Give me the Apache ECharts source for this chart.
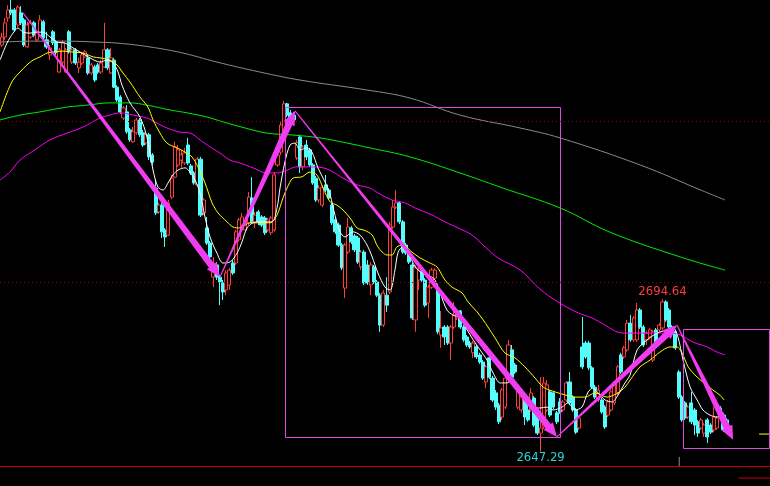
<!DOCTYPE html>
<html><head><meta charset="utf-8">
<script src="https://cdn.jsdelivr.net/npm/echarts@6/dist/echarts.min.js"></script>
<style>html,body{margin:0;padding:0;background:#000;}#c{width:770px;height:486px;}</style>
</head><body><div id="c"></div>
<script>
const opens=[2773.7,2776.2,2782.1,2784.6,2784.6,2779.9,2783.7,2781.5,2773.1,2776.2,
2780.6,2775.3,2776.8,2780.9,2775.3,2770.6,2777.8,2774.7,2765.3,2768.4,
2765.3,2777.8,2768.4,2772.2,2766.6,2768.1,2770.0,2769.7,2765.0,2766.9,
2767.5,2765.3,2766.9,2772.2,2765.0,2769.0,2760.6,2757.5,2751.0,2752.9,
2747.3,2743.6,2746.4,2750.4,2746.4,2743.3,2745.8,2739.5,2729.2,2721.8,
2723.9,2716.2,2714.6,2726.4,2732.6,2736.4,2737.9,2737.0,2742.6,2736.1,
2733.9,2730.2,2738.2,2721.5,2716.8,2712.1,2701.5,2705.3,2701.5,2699.7,
2697.5,2699.1,2705.9,2705.9,2713.1,2717.7,2716.2,2718.4,2726.1,2718.7,
2721.8,2720.2,2719.9,2716.2,2715.3,2716.2,2736.4,2740.4,2745.8,2755.4,
2752.6,2751.9,2738.6,2745.1,2735.8,2742.6,2741.1,2736.4,2732.3,2725.5,
2723.9,2730.2,2728.6,2723.9,2719.3,2717.7,2711.5,2698.1,2709.3,2716.8,
2714.3,2713.7,2704.7,2709.3,2705.3,2699.1,2704.7,2700.0,2695.9,2686.6,
2695.9,2696.9,2717.1,2723.3,2724.6,2718.7,2711.5,2709.3,2705.3,2688.2,
2700.6,2703.1,2700.6,2693.5,2698.4,2701.2,2697.5,2683.5,2686.0,2686.0,
2681.0,2686.0,2688.8,2691.0,2686.0,2682.9,2681.0,2678.0,2679.8,2677.3,
2675.1,2668.9,2676.4,2670.1,2665.5,2661.7,2658.0,2661.1,2669.5,2678.9,
2674.2,2661.1,2660.2,2664.2,2660.2,2660.2,2663.9,2659.3,2653.0,2654.9,
2660.2,2665.8,2665.5,2659.3,2662.7,2660.2,2663.3,2668.9,2664.2,2660.2,
2654.6,2679.8,2681.0,2681.0,2673.3,2667.3,2663.3,2663.3,2661.1,2658.6,
2660.2,2662.4,2665.5,2677.3,2676.7,2678.9,2687.2,2682.0,2682.0,2691.3,
2686.0,2682.0,2682.9,2675.7,2685.1,2685.1,2685.7,2693.8,2691.3,2686.0,
2684.5,2672.0,2664.2,2662.4,2658.0,2662.4,2660.2,2656.5,2654.6,2653.0,
2657.1,2655.5,2654.0,2654.6,2660.8,2658.6,2657.1];
const closes=[2776.2,2780.6,2784.6,2783.7,2778.4,2785.5,2780.6,2773.7,2779.9,2780.6,
2776.8,2777.5,2781.5,2775.9,2773.1,2772.8,2774.4,2771.3,2772.2,2774.4,
2772.2,2771.6,2772.2,2768.1,2768.4,2770.6,2771.6,2765.0,2767.5,2762.8,
2765.3,2768.1,2772.2,2766.6,2769.7,2760.6,2756.6,2752.9,2754.1,2746.7,
2744.2,2746.7,2750.4,2745.8,2742.6,2745.8,2738.9,2737.3,2721.5,2723.9,
2715.6,2714.0,2724.6,2732.3,2742.0,2741.1,2739.5,2740.1,2737.0,2733.9,
2730.8,2738.2,2720.8,2725.5,2712.1,2707.8,2705.9,2701.5,2700.0,2696.9,
2702.8,2703.7,2702.8,2715.6,2719.3,2720.2,2718.7,2726.4,2718.7,2720.8,
2718.7,2717.7,2715.3,2719.3,2719.9,2733.3,2739.5,2748.8,2755.4,2751.9,
2750.4,2750.4,2743.3,2735.8,2742.0,2738.9,2736.4,2730.8,2725.5,2729.2,
2729.5,2728.6,2726.1,2718.4,2715.6,2711.5,2704.4,2711.5,2717.1,2712.5,
2710.0,2706.2,2709.3,2699.7,2699.7,2705.3,2700.0,2695.9,2686.6,2696.6,
2692.8,2717.7,2723.3,2724.6,2718.7,2709.3,2709.0,2706.2,2688.8,2704.4,
2703.7,2700.6,2692.8,2698.4,2703.7,2703.7,2684.5,2685.7,2682.9,2681.0,
2686.0,2689.7,2691.0,2686.0,2682.0,2680.4,2679.8,2681.0,2676.7,2675.1,
2670.1,2673.6,2670.4,2663.3,2661.1,2656.5,2666.4,2670.1,2680.4,2670.4,
2672.0,2667.3,2664.2,2658.0,2657.1,2665.5,2655.5,2653.0,2654.6,2668.6,
2668.0,2658.6,2661.1,2656.5,2659.6,2662.7,2668.6,2662.4,2660.2,2653.3,
2657.7,2673.6,2676.7,2673.3,2667.3,2664.2,2666.4,2659.6,2654.9,2662.7,
2665.8,2668.6,2673.6,2672.0,2679.5,2687.2,2682.0,2688.8,2691.3,2686.0,
2680.4,2684.1,2685.1,2684.5,2681.4,2686.6,2693.8,2688.2,2686.0,2684.1,
2679.5,2664.2,2657.1,2657.7,2661.1,2656.5,2655.5,2653.0,2657.1,2655.5,
2651.8,2653.3,2658.0,2657.7,2658.0,2654.0,2653.3];
const lows=[2773.1,2775.3,2780.9,2783.0,2777.8,2779.3,2779.9,2773.1,2772.8,2775.6,
2776.2,2774.7,2776.2,2775.3,2772.5,2769.0,2773.7,2770.6,2765.0,2767.8,
2765.0,2771.0,2767.8,2767.5,2765.0,2767.5,2769.7,2764.4,2764.4,2762.2,
2764.7,2764.7,2766.6,2765.9,2764.7,2760.3,2756.0,2752.3,2750.4,2746.1,
2743.6,2743.3,2745.8,2745.1,2742.0,2742.6,2737.9,2736.4,2720.8,2721.2,
2713.7,2710.9,2714.3,2725.8,2732.3,2735.8,2735.5,2736.4,2736.4,2733.3,
2730.2,2729.9,2720.2,2720.8,2711.5,2706.8,2698.4,2700.6,2692.8,2694.4,
2695.9,2697.5,2702.2,2705.3,2712.5,2717.1,2715.6,2717.7,2718.0,2716.8,
2717.7,2717.1,2714.6,2715.6,2714.6,2715.6,2735.8,2739.5,2745.1,2751.3,
2749.8,2748.8,2737.9,2733.9,2734.8,2737.9,2735.8,2730.2,2724.9,2724.6,
2723.3,2728.0,2725.5,2717.7,2714.9,2710.9,2703.7,2695.0,2708.7,2711.8,
2709.3,2705.6,2703.7,2699.1,2699.1,2695.9,2699.4,2695.3,2684.5,2686.0,
2690.7,2696.3,2716.5,2722.7,2718.0,2708.7,2708.4,2705.6,2688.2,2684.5,
2697.5,2700.0,2692.2,2688.8,2697.8,2700.6,2683.8,2679.5,2680.4,2680.4,
2675.7,2685.4,2688.2,2685.4,2681.4,2679.8,2679.2,2676.4,2676.1,2674.5,
2669.5,2667.0,2669.8,2662.7,2660.2,2655.8,2657.1,2660.5,2668.9,2669.8,
2671.4,2660.5,2659.3,2655.5,2656.5,2659.6,2654.9,2652.4,2647.29,2654.3,
2659.6,2658.0,2660.5,2655.8,2659.0,2659.6,2662.7,2661.7,2659.6,2652.7,
2654.0,2672.9,2676.1,2672.6,2666.7,2663.6,2662.7,2659.0,2654.3,2658.0,
2659.6,2661.7,2664.8,2671.4,2676.1,2678.3,2681.4,2681.4,2681.4,2685.4,
2679.8,2680.4,2682.3,2675.1,2680.7,2684.5,2685.1,2687.6,2685.4,2683.5,
2678.9,2663.6,2656.5,2657.1,2657.4,2655.8,2652.4,2651.8,2654.0,2651.8,
2649.9,2652.7,2653.3,2654.0,2657.4,2653.3,2652.7];
const highs=[2777.5,2782.1,2786.1,2787.7,2785.2,2786.1,2785.8,2782.1,2780.9,2781.5,
2781.2,2778.1,2783.0,2781.5,2777.8,2773.7,2778.4,2775.3,2772.8,2775.3,
2772.8,2778.4,2772.8,2772.8,2769.7,2771.6,2772.2,2770.6,2768.1,2767.5,
2768.1,2769.0,2780.6,2772.8,2772.8,2769.7,2761.2,2758.1,2754.7,2755.0,
2747.9,2748.2,2751.0,2751.0,2747.3,2746.4,2746.4,2740.1,2732.0,2724.6,
2724.6,2716.8,2725.5,2733.3,2743.6,2742.6,2741.1,2741.7,2744.8,2736.7,
2734.5,2738.9,2738.9,2726.1,2720.2,2712.8,2707.8,2706.2,2702.2,2700.6,
2703.7,2704.4,2706.8,2716.2,2719.9,2721.5,2719.3,2728.0,2732.6,2721.8,
2722.4,2720.8,2720.5,2719.9,2720.5,2734.2,2741.1,2749.8,2756.3,2755.7,
2753.5,2752.9,2744.2,2745.8,2742.6,2744.2,2741.7,2737.0,2733.0,2730.2,
2730.2,2733.3,2729.2,2724.6,2719.9,2718.4,2712.1,2712.1,2719.9,2717.4,
2714.9,2714.3,2710.0,2710.0,2706.8,2706.2,2705.3,2700.6,2696.6,2697.5,
2701.5,2718.7,2725.5,2728.6,2725.2,2719.3,2712.1,2710.0,2705.9,2705.3,
2704.4,2703.7,2701.2,2699.1,2704.4,2704.4,2698.1,2691.0,2686.6,2686.6,
2686.6,2693.8,2691.3,2691.3,2686.6,2683.5,2681.7,2681.7,2680.4,2678.0,
2675.7,2674.2,2678.9,2670.8,2666.4,2662.4,2667.0,2671.1,2682.0,2680.4,
2674.8,2668.0,2664.8,2664.8,2661.7,2667.0,2664.5,2659.9,2670.4,2670.4,
2669.5,2666.4,2666.1,2659.9,2663.9,2663.3,2669.2,2672.0,2664.8,2660.8,
2658.3,2689.1,2681.7,2681.7,2673.9,2668.0,2668.0,2663.9,2661.7,2663.3,
2666.4,2669.2,2674.2,2678.0,2680.1,2688.2,2689.7,2689.4,2693.5,2691.9,
2686.6,2684.8,2685.7,2685.1,2685.7,2687.2,2694.64,2694.3,2691.9,2686.6,
2685.1,2672.6,2664.8,2663.0,2661.7,2665.8,2660.8,2657.1,2657.7,2656.1,
2657.7,2656.1,2661.1,2658.3,2661.4,2659.3,2657.7];

// moving average lines: [bar index, price]
const ma5Pts=[[-0.5,2769.0],[1.68,2774.3],[3.55,2777.4],[5.1,2779.0],[6.67,2777.7],[8.85,2777.4],[11.03,2777.7],[12.9,2777.7],[15.09,2776.2],[17.27,2774.6],[19.76,2774.3],[22.25,2772.8],[24.44,2771.5],[27.55,2769.7],[30.67,2768.4],[32.85,2769.0],[34.7,2768.1],[36.3,2765.3],[37.5,2761.3],[40.0,2755.7],[43.14,2751.3],[45.3,2745.1],[47.2,2734.8],[48.75,2729.5],[50.3,2728.6],[51.87,2730.8],[53.4,2733.3],[54.98,2734.8],[57.2,2735.5],[58.7,2734.2],[60.28,2731.7],[61.84,2727.7],[63.4,2720.2],[64.96,2714.0],[67.1,2709.0],[69.0,2705.9],[71.2,2706.2],[73.4,2709.0],[74.9,2712.4],[76.5,2716.8],[78.36,2718.4],[81.5,2718.7],[84.3,2718.7],[85.84,2723.0],[86.78,2729.2],[88.3,2737.3],[89.9,2742.6],[91.45,2743.2],[93.0,2741.1],[95.2,2741.7],[96.75,2740.4],[98.6,2735.5],[100.8,2731.1],[102.4,2727.1],[103.9,2720.8],[105.5,2715.6],[107.0,2714.0],[109.5,2715.6],[111.7,2714.6],[113.9,2711.5],[115.5,2707.8],[117.3,2702.8],[119.5,2698.4],[121.1,2697.5],[122.6,2703.7],[123.6,2709.3],[125.1,2710.9],[126.7,2709.3],[128.9,2704.7],[131.0,2702.8],[132.9,2702.2],[135.1,2700.6],[136.7,2696.6],[138.8,2691.3],[140.7,2689.7],[142.9,2688.8],[145.1,2685.1],[147.0,2682.0],[149.1,2678.9],[151.3,2675.7],[153.2,2671.7],[155.4,2668.6],[157.5,2668.6],[159.4,2669.5],[161.6,2665.5],[163.8,2664.2],[165.6,2661.1],[167.8,2660.8],[170.0,2661.1],[171.9,2660.2],[174.7,2661.1],[176.5,2662.4],[178.7,2660.2],[180.9,2661.1],[182.8,2665.8],[184.3,2667.0],[185.9,2665.5],[188.1,2663.3],[190.3,2662.7],[192.1,2664.8],[194.3,2668.6],[195.9,2671.1],[198.1,2678.9],[201.2,2682.0],[204.3,2684.1],[207.4,2685.1],[209.3,2685.7],[210.8,2682.9],[212.4,2675.7],[214.6,2667.3],[216.8,2663.3],[218.6,2660.2],[220.8,2658.6],[223.0,2658.0],[224.9,2659.3]];
const ma10Pts=[[-0.5,2752.9],[1.68,2758.8],[3.55,2762.8],[5.73,2765.3],[7.9,2767.5],[9.79,2769.0],[11.97,2770.0],[14.15,2771.2],[16.0,2771.5],[19.1,2771.8],[22.25,2771.5],[25.4,2771.2],[28.5,2770.0],[30.67,2769.7],[33.8,2769.0],[35.97,2767.5],[37.84,2765.0],[40.0,2762.2],[43.14,2757.5],[45.6,2754.4],[47.2,2750.4],[49.37,2746.3],[51.55,2743.2],[54.67,2741.7],[57.2,2740.4],[59.35,2738.9],[61.2,2735.8],[63.4,2730.8],[65.6,2724.6],[67.45,2721.5],[70.26,2718.7],[72.1,2717.1],[74.3,2716.8],[77.4,2718.4],[80.5,2718.4],[83.66,2718.4],[85.84,2720.8],[87.7,2726.1],[88.96,2729.2],[90.8,2732.3],[93.6,2732.7],[96.1,2734.2],[98.3,2733.3],[100.2,2729.2],[102.4,2724.9],[104.5,2723.9],[106.4,2722.4],[108.6,2719.9],[110.8,2716.8],[113.3,2716.0],[115.5,2714.6],[117.3,2710.9],[120.1,2708.4],[121.7,2708.4],[123.2,2710.9],[125.1,2711.5],[127.9,2709.3],[130.4,2707.5],[133.5,2705.9],[135.7,2704.7],[138.2,2700.6],[140.4,2698.4],[143.5,2696.6],[145.4,2693.8],[148.2,2690.7],[150.1,2688.2],[151.6,2686.0],[153.8,2682.6],[156.9,2677.9],[160.0,2676.4],[163.1,2673.6],[166.3,2670.1],[168.8,2667.3],[171.6,2666.1],[175.6,2664.9],[178.7,2664.2],[181.8,2664.2],[185.0,2665.5],[188.7,2664.2],[192.1,2665.5],[194.3,2667.3],[195.9,2669.5],[199.0,2673.6],[202.1,2675.7],[205.2,2678.2],[208.3,2679.8],[210.5,2679.8],[212.1,2677.9],[214.0,2673.6],[216.8,2670.4],[219.9,2667.9],[221.7,2666.4],[223.9,2664.8],[225.2,2663.3]];
const ma30Pts=[[-0.5,2731.7],[2.6,2734.2],[5.73,2737.9],[10.4,2741.1],[15.09,2744.2],[20.4,2746.3],[25.4,2748.2],[30.67,2751.0],[33.8,2751.9],[36.9,2752.6],[40.96,2751.9],[45.3,2751.0],[48.4,2749.4],[51.55,2747.9],[55.6,2746.6],[58.7,2746.3],[61.84,2744.2],[64.96,2742.0],[68.07,2740.1],[71.2,2737.9],[74.3,2737.0],[78.36,2735.5],[82.7,2733.9],[85.84,2733.9],[88.96,2734.8],[92.07,2735.8],[96.1,2735.8],[100.2,2735.5],[103.3,2734.2],[106.4,2732.3],[110.8,2730.2],[114.8,2729.2],[117.3,2727.7],[121.7,2725.5],[125.7,2724.6],[128.9,2723.0],[134.2,2720.8],[138.2,2718.7],[142.3,2716.8],[146.6,2714.6],[150.7,2710.9],[154.7,2707.5],[161.6,2703.7],[167.8,2697.8],[173.4,2693.8],[179.7,2690.4],[184.0,2688.8],[188.1,2686.6],[192.1,2684.4],[194.9,2684.1],[201.2,2684.1],[207.4,2684.1],[211.5,2683.5],[215.5,2681.3],[219.9,2679.8],[223.0,2678.2],[225.5,2677.3]];
const ma60Pts=[[-0.5,2750.4],[5.73,2751.9],[11.97,2752.9],[20.4,2754.4],[26.6,2755.0],[33.8,2755.7],[40.0,2755.7],[45.3,2755.0],[52.5,2753.5],[57.8,2752.6],[64.0,2751.3],[69.0,2749.8],[75.87,2747.9],[82.7,2746.3],[90.8,2745.7],[99.24,2744.8],[107.7,2743.2],[114.8,2741.7],[127.3,2738.9],[142.9,2733.9],[155.4,2729.5],[174.1,2723.0],[189.6,2715.5],[211.5,2707.8],[225.5,2703.7]];
const ma120Pts=[[-0.5,2774.6],[9.79,2774.9],[20.4,2774.9],[29.7,2774.6],[35.97,2774.3],[46.26,2773.1],[56.5,2771.2],[67.1,2768.4],[80.5,2765.3],[93.0,2762.8],[113.9,2759.7],[127.3,2757.2],[142.9,2751.9],[161.6,2747.9],[174.1,2744.8],[199.0,2736.4],[217.9,2728.6],[225.5,2725.5]];

// zigzag arrows: [fromIndex, fromPrice, toIndex, toPrice]
const zigzag=[[6.67,2783.7,68.07,2701.55],[68.07,2701.55,91.45,2753.2],[91.45,2753.2,173.1,2651.8],[173.1,2651.8,210.5,2686.6],[210.5,2686.6,228.0,2650.9]];
// boxes: [leftIndex, topPrice, rightIndex, bottomPrice]
const boxes=[[88.3,2754.4,174.1,2651.8],[212.4,2685.4,239.2,2648.4]];
const gridLevels=[2750,2700];
const peakLabel={index:206,price:2694.64};
const troughLabel={index:168,price:2647.29};
const slotCount=240;
const categories=Array.from({length:slotCount},(_,i)=>String(i));

const chart=echarts.init(document.getElementById('c'),null,{renderer:'canvas'});
function ma(pts,color,smooth){return {type:'line',xAxisIndex:1,yAxisIndex:0,data:pts,showSymbol:false,smooth:smooth,lineStyle:{color:color,width:1},silent:true,z:3,animation:false};}
const boxColors=['#e048e0','#e048e0'];
const labelFont='Liberation Sans Narrow, DejaVu Sans Condensed, Arial, sans-serif';
chart.setOption({
  backgroundColor:'#000',
  animation:false,
  grid:{left:0,right:0,top:0,bottom:20},
  xAxis:[
    {type:'category',data:categories,boundaryGap:true,axisLine:{show:true,lineStyle:{color:'#c80000',width:1}},axisTick:{show:false},axisLabel:{show:false},splitLine:{show:false}},
    {type:'value',min:-0.5,max:slotCount-0.5,show:false}
  ],
  yAxis:{type:'value',min:2642.77,max:2787.7,show:false,splitLine:{show:false}},
  series:[
    {type:'candlestick',xAxisIndex:0,yAxisIndex:0,barWidth:3.6,z:2,
     data:opens.map((o,i)=>[o,closes[i],lows[i],highs[i]]),
     itemStyle:{color:'#000',color0:'#54fcfc',borderColor:'#ff3c3c',borderColor0:'#54fcfc',borderWidth:1},
     markLine:{silent:true,symbol:['none','none'],label:{show:false},lineStyle:{color:'#8c0000',type:[1,3],width:1},data:gridLevels.map(v=>({yAxis:v}))},
     markPoint:{symbol:'circle',symbolSize:0,data:[
       {coord:[String(peakLabel.index),peakLabel.price],value:peakLabel.price,label:{show:true,position:'top',distance:1,color:'#ff3c3c',fontSize:13,fontFamily:labelFont,formatter:String(peakLabel.price)}},
       {coord:[String(troughLabel.index),troughLabel.price],value:troughLabel.price,label:{show:true,position:'bottom',distance:0,color:'#2ad4d4',fontSize:13,fontFamily:labelFont,formatter:String(troughLabel.price)}}
     ]}
    },
    ma(ma120Pts,'#8a8a8a',0.4),
    ma(ma60Pts,'#00ee00',0.4),
    ma(ma30Pts,'#ff00ff',0.4),
    ma(ma10Pts,'#ffff00',0.3),
    ma(ma5Pts,'#ffffff',0.3),
    {type:'custom',xAxisIndex:1,yAxisIndex:0,z:4,silent:true,data:boxes,
     renderItem:function(params,api){
       const a=api.coord([api.value(0),api.value(1)]);const b=api.coord([api.value(2),api.value(3)]);
       const x=Math.round(a[0])+0.5,y=Math.round(a[1])+0.5;
       return {type:'rect',shape:{x:x,y:y,width:Math.round(b[0]-a[0]),height:Math.round(b[1]-a[1])},style:{fill:'none',stroke:boxColors[params.dataIndex],lineWidth:1}};
     }},
    {type:'custom',xAxisIndex:1,yAxisIndex:0,z:5,silent:true,data:zigzag,
     renderItem:function(params,api){
       const a=api.coord([api.value(0),api.value(1)]);const b=api.coord([api.value(2),api.value(3)]);
       const dx=b[0]-a[0],dy=b[1]-a[1];const L=Math.hypot(dx,dy);const ux=dx/L,uy=dy/L;const nx=-uy,ny=ux;
       const hl=14,hw=6,w0=0.5,w1=3.4;
       const bx=b[0]-ux*hl,by=b[1]-uy*hl;
       const pts=[[a[0]+nx*w0,a[1]+ny*w0],[bx+nx*w1,by+ny*w1],[bx+nx*hw,by+ny*hw],[b[0],b[1]],[bx-nx*hw,by-ny*hw],[bx-nx*w1,by-ny*w1],[a[0]-nx*w0,a[1]-ny*w0]];
       return {type:'polygon',shape:{points:pts},style:{fill:'#f23cf2'}};
     }},
    {type:'line',xAxisIndex:1,yAxisIndex:0,data:[[236.1,2652.7],[239.5,2652.7]],showSymbol:false,lineStyle:{color:'#ffff00',width:1},silent:true,z:3},
    {type:'line',xAxisIndex:1,yAxisIndex:0,data:[[211.2,2645.6],[211.2,2642.77]],showSymbol:false,lineStyle:{color:'#909090',width:1},silent:true,z:3},
    {type:'line',xAxisIndex:1,yAxisIndex:0,clip:false,data:[[229.6,2639.0],[239.5,2639.0]],showSymbol:false,lineStyle:{color:'#c80000',width:1},silent:true,z:3}
  ]
});
</script></body></html>
